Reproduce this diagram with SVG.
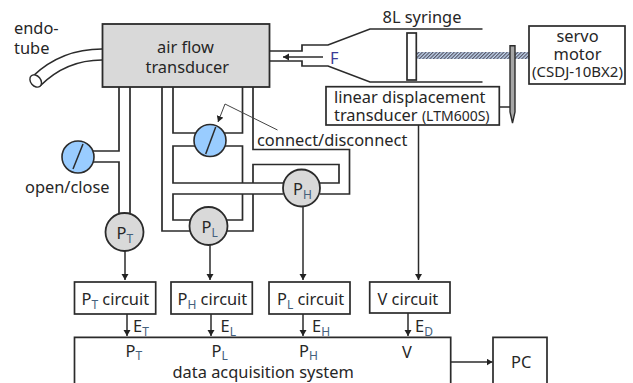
<svg xmlns="http://www.w3.org/2000/svg" width="633" height="383" viewBox="0 0 633 383">
<style>
text{font-family:"Noto Sans","Open Sans",sans-serif;font-size:16.400px;fill:#262626}
.s{font-size:12px;fill:#44607c}
.p{fill:none;stroke:#2b2b2b;stroke-width:1.7}
.b{fill:#fff;stroke:#2b2b2b;stroke-width:1.7}
.t{fill:none;stroke:#2b2b2b;stroke-width:1.5}
.g{fill:#d9d9d9;stroke:#2b2b2b;stroke-width:1.8}
.v{fill:#99ccff;stroke:#2b2b2b;stroke-width:1.6}
</style>
<defs>
<marker id="a" markerWidth="7" markerHeight="8" refX="6" refY="3.500" orient="auto" markerUnits="userSpaceOnUse"><path d="M0 0L6 3.500L0 7z" fill="#222"/></marker>
<pattern id="h" width="2.500" height="2.500" patternUnits="userSpaceOnUse" patternTransform="rotate(45)"><rect width="2.500" height="2.500" fill="#c5d9f1"/><rect width="1.200" height="2.500" fill="#556"/></pattern>
</defs>
<g id="connectors">
<path class="p" d="M119 87V151H92M92 162H119V217M130 87V217"/>
<path class="p" d="M162 87V231H190"/>
<path class="p" d="M173 87V133H197M222 133H242.500V87"/>
<path class="p" d="M197 146H173V183H283M222 146H242.500V183"/>
<path class="p" d="M253 87V149.500H349.500V194H320"/>
<path class="p" d="M253 183V164.500H339V183H319"/>
<path class="p" d="M283 194H173V220H191M227 220H242.500V194"/>
<path class="p" d="M227 231H253V194"/>
<path class="t" d="M125 251V280" marker-end="url(#a)"/>
<path class="t" d="M210 245V280" marker-end="url(#a)"/>
<path class="t" d="M303 207V280" marker-end="url(#a)"/>
<path class="t" d="M418.500 125V280" marker-end="url(#a)"/>
<path class="t" d="M127 314V336" marker-end="url(#a)"/>
<path class="t" d="M211 314V336" marker-end="url(#a)"/>
<path class="t" d="M303 314V336" marker-end="url(#a)"/>
<path class="t" d="M408 313V336" marker-end="url(#a)"/>
<path class="t" d="M451 362H492.500" marker-end="url(#a)"/>
<path d="M277.500 130L225 104L218 122" fill="none" stroke="#444" stroke-width="1" marker-end="url(#a)"/>
<path class="t" d="M323 57H283" marker-end="url(#a)"/>
<path class="t" d="M499 107H510"/>
</g>
<g id="endotube">
<path class="p" d="M102 49C75 49 52 58 33 76M102 60C78 60 58 68 40 86"/>
<ellipse cx="35.700" cy="81" rx="5" ry="6.800" transform="rotate(-40 35.700 81)" fill="#fff" stroke="#2b2b2b" stroke-width="1.400"/>
<text x="14" y="34">endo-</text><text x="14" y="53.500">tube</text>
</g>
<g id="air-flow-transducer">
<rect class="g" x="102.500" y="24" width="167" height="63"/>
<text x="157" y="52.500">air flow</text><text x="145.500" y="72.500">transducer</text>
</g>
<g id="syringe">
<path class="p" d="M269 51H302V45H328L370 29H482.500M269 61H302V66H328L370 82H482.500"/>
<rect x="416" y="52" width="113" height="7" fill="url(#h)"/>
<rect class="b" x="407" y="33" width="9.300" height="47"/>
<text x="382.500" y="22.500">8L syringe</text>
<text x="330" y="64" style="fill:#3a3a96">F</text>
</g>
<g id="servo-motor">
<rect class="b" x="529" y="26" width="96" height="58"/>
<text x="577.500" y="42" text-anchor="middle">servo</text><text x="577.500" y="59.500" text-anchor="middle">motor</text>
<text x="577.500" y="77" text-anchor="middle" style="font-size:15px">(CSDJ-10BX2)</text>
</g>
<g id="pointer"><path d="M510 45.700H515V112L512.500 123L510 112Z" fill="#a6a6a6" stroke="#2b2b2b" stroke-width="1.400"/></g>
<g id="linear-displacement-transducer">
<rect class="b" x="326" y="86.700" width="173.300" height="38.300"/>
<text x="334" y="102.500">linear displacement</text>
<text x="334" y="120.500">transducer <tspan style="font-size:14px">(LTM600S)</tspan></text>
</g>
<g id="valve-open-close">
<circle class="v" cx="78" cy="157" r="16"/><path class="t" d="M73 169L83 144"/>
<text x="25" y="193">open/close</text>
</g>
<g id="valve-connect">
<circle class="v" cx="210" cy="140.500" r="16"/><path class="t" d="M205.700 154L215.700 127"/>
<text x="257" y="146">connect/disconnect</text>
</g>
<g id="PT"><circle class="g" cx="124.500" cy="232" r="19"/><text x="116.500" y="239">P<tspan class="s" dy="4">T</tspan></text></g>
<g id="PL"><circle class="g" cx="208.500" cy="226" r="19"/><text x="201.500" y="232.500">P<tspan class="s" dy="4">L</tspan></text></g>
<g id="PH"><circle class="g" cx="301.500" cy="188" r="18.500"/><text x="293" y="195">P<tspan class="s" dy="4">H</tspan></text></g>
<g id="PT-circuit"><rect class="b" x="74.500" y="282" width="81.200" height="32"/><text x="81.500" y="305">P<tspan class="s" dy="4">T</tspan><tspan dy="-4"> circuit</tspan></text></g>
<g id="PH-circuit"><rect class="b" x="171" y="282" width="81.300" height="32"/><text x="177.500" y="305">P<tspan class="s" dy="4">H</tspan><tspan dy="-4"> circuit</tspan></text></g>
<g id="PL-circuit"><rect class="b" x="269" y="282" width="81" height="32"/><text x="277" y="305">P<tspan class="s" dy="4">L</tspan><tspan dy="-4"> circuit</tspan></text></g>
<g id="V-circuit"><rect class="b" x="369.700" y="282" width="80.300" height="31"/><text x="377.500" y="305">V circuit</text></g>
<g id="daq">
<path class="b" d="M74.500 384V337.300H450.700V384"/>
<text x="125.500" y="357">P<tspan class="s" dy="3">T</tspan></text>
<text x="211.500" y="357">P<tspan class="s" dy="3">L</tspan></text>
<text x="299" y="357">P<tspan class="s" dy="3">H</tspan></text>
<text x="402" y="357.500">V</text>
<text x="172.500" y="378">data acquisition system</text>
</g>
<g id="PC"><path class="b" d="M493 384V337.300H547V384"/><text x="511" y="368">PC</text></g>
<g id="labels">
<text x="133" y="332">E<tspan class="s" dy="4">T</tspan></text>
<text x="220.500" y="332">E<tspan class="s" dy="4">L</tspan></text>
<text x="312" y="332">E<tspan class="s" dy="4">H</tspan></text>
<text x="415" y="332">E<tspan class="s" dy="4">D</tspan></text>
</g>
</svg>
